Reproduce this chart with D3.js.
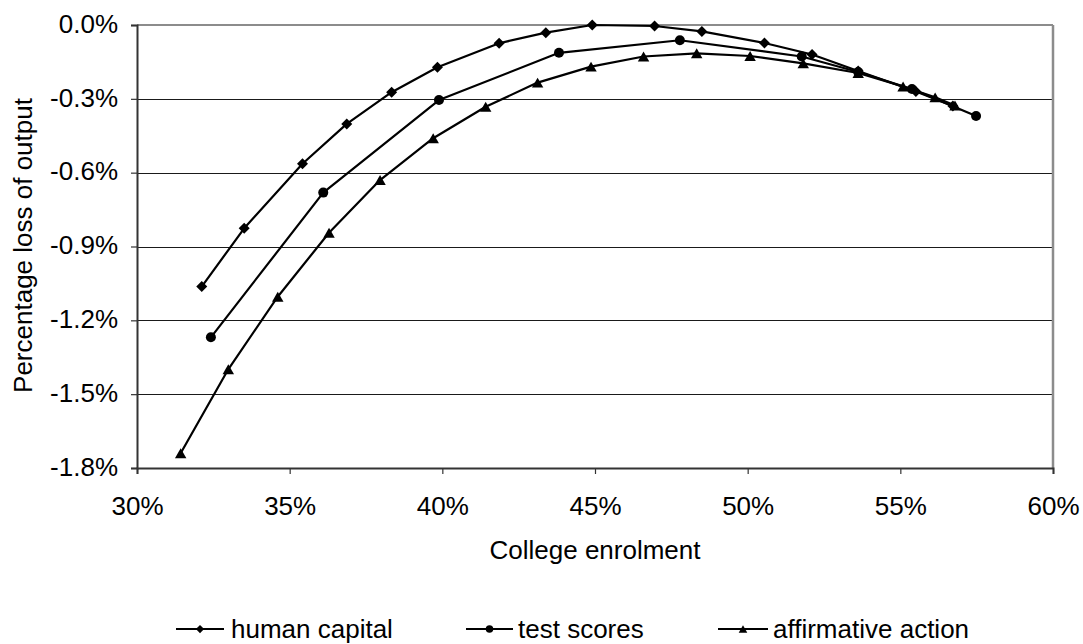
<!DOCTYPE html>
<html>
<head>
<meta charset="utf-8">
<script src="https://cdn.jsdelivr.net/npm/d3@7"></script>
<style>
  html, body { margin: 0; padding: 0; background: #fff; }
  svg { display: block; font-family: Arial, "Liberation Sans", sans-serif; }
</style>
</head>
<body>
<svg id="chart" width="1083" height="644"></svg>
<script>
// ---- data (percent) ----
const humanCapitalX = [32.12, 33.51, 35.42, 36.87, 38.34, 39.84, 41.86, 43.39, 44.91, 46.95, 48.50, 50.55, 52.11, 53.62, 55.51, 56.72];
const humanCapitalY = [-1.063, -0.826, -0.564, -0.402, -0.273, -0.172, -0.074, -0.031, 0.000, -0.004, -0.026, -0.073, -0.120, -0.187, -0.270, -0.329];

const testScoresX = [32.42, 36.10, 39.89, 43.82, 47.78, 51.77, 53.62, 55.38, 57.48];
const testScoresY = [-1.269, -0.681, -0.305, -0.113, -0.062, -0.128, -0.191, -0.260, -0.370];

const affirmativeX = [31.43, 32.99, 34.61, 36.29, 37.96, 39.70, 41.42, 43.12, 44.87, 46.59, 48.33, 50.08, 51.82, 53.62, 55.09, 56.14, 56.79];
const affirmativeY = [-1.740, -1.399, -1.104, -0.844, -0.630, -0.460, -0.332, -0.234, -0.169, -0.128, -0.115, -0.126, -0.156, -0.195, -0.250, -0.294, -0.327];

const seriesNames = ["human capital", "test scores", "affirmative action"];
const seriesSymbols = ["diamond", "circle", "triangle"];

const xTicks = [30, 35, 40, 45, 50, 55, 60];
const yTicks = [0.0, -0.3, -0.6, -0.9, -1.2, -1.5, -1.8];

const xTitle = "College enrolment";
const yTitle = "Percentage loss of output";

// ---- layout ----
const FS = 26;
const FONT = "Arial, 'Liberation Sans', sans-serif";
const plot = { left: 137, right: 1053, top: 25, bottom: 468 };

const svg = d3.select("#chart");
const x = d3.scaleLinear().domain([30, 60]).range([plot.left, plot.right]);
const y = d3.scaleLinear().domain([-1.8, 0]).range([plot.bottom, plot.top]);

// gridlines
svg.append("g").selectAll("line").data(yTicks.filter(d => d !== 0 && d !== -1.8)).join("line")
  .attr("x1", plot.left).attr("x2", plot.right)
  .attr("y1", d => Math.round(y(d)) + 0.5).attr("y2", d => Math.round(y(d)) + 0.5)
  .attr("stroke", "#1a1a1a").attr("stroke-width", 1);

// plot border top and right (gray)
svg.append("line").attr("x1", plot.left).attr("x2", plot.right).attr("y1", plot.top).attr("y2", plot.top)
  .attr("stroke", "#8c8c8c").attr("stroke-width", 2);
svg.append("line").attr("x1", plot.right).attr("x2", plot.right).attr("y1", plot.top).attr("y2", plot.bottom)
  .attr("stroke", "#8c8c8c").attr("stroke-width", 2.5);

// axes
const fmtY = d => (d < 0 ? "-" : "") + Math.abs(d).toFixed(1) + "%";
const yAxis = d3.axisLeft(y).tickValues(yTicks).tickSize(6).tickPadding(13).tickFormat(fmtY);
const gy = svg.append("g").attr("transform", `translate(${plot.left},0)`).call(yAxis);
gy.select(".domain").attr("stroke", "#333").attr("stroke-width", 2);
gy.selectAll(".tick line").attr("stroke", "#333").attr("stroke-width", 1.2);
gy.selectAll(".tick text").attr("font-size", FS).attr("fill", "#000").attr("font-family", FONT)
  .attr("dy", "0.28em");

const xAxis = d3.axisBottom(x).tickValues(xTicks).tickSize(6).tickPadding(23).tickFormat(d => d + "%");
const gx = svg.append("g").attr("transform", `translate(0,${plot.bottom})`).call(xAxis);
gx.select(".domain").attr("stroke", "#333").attr("stroke-width", 2);
gx.selectAll(".tick line").attr("stroke", "#333").attr("stroke-width", 1.2);
gx.selectAll(".tick text").attr("font-size", FS).attr("fill", "#000").attr("font-family", FONT);

// titles
svg.append("text").attr("x", (plot.left + plot.right) / 2).attr("y", 559)
  .attr("text-anchor", "middle").attr("font-size", FS).attr("font-family", FONT).text(xTitle);
svg.append("text").attr("transform", `translate(32,${(plot.top + plot.bottom) / 2 - 1}) rotate(-90)`)
  .attr("text-anchor", "middle").attr("font-size", FS).attr("font-family", FONT).text(yTitle);

// series
const series = [
  { name: seriesNames[0], sym: seriesSymbols[0], pts: humanCapitalX.map((v, i) => [v, humanCapitalY[i]]) },
  { name: seriesNames[1], sym: seriesSymbols[1], pts: testScoresX.map((v, i) => [v, testScoresY[i]]) },
  { name: seriesNames[2], sym: seriesSymbols[2], pts: affirmativeX.map((v, i) => [v, affirmativeY[i]]) }
];

function markerPath(sym, r) {
  if (sym === "diamond") return `M0,${-r}L${r},0L0,${r}L${-r},0Z`;
  if (sym === "circle") return d3.symbol().type(d3.symbolCircle).size(Math.PI * r * r)();
  // triangle centred on its bounding box
  const h = r * 1.9, w = r * 2.2;
  return `M0,${-h / 2}L${w / 2},${h / 2}L${-w / 2},${h / 2}Z`;
}
const markerR = { diamond: 5.5, circle: 5, triangle: 5.2 };
const line = d3.line().x(d => x(d[0])).y(d => y(d[1]));

series.forEach(s => {
  svg.append("path").attr("d", line(s.pts)).attr("fill", "none").attr("stroke", "#000")
    .attr("stroke-width", 2.2).attr("stroke-linejoin", "round");
  svg.append("g").selectAll("path").data(s.pts).join("path")
    .attr("transform", d => `translate(${x(d[0])},${y(d[1])})`)
    .attr("d", markerPath(s.sym, markerR[s.sym]))
    .attr("fill", "#000");
});

// legend
const legendItems = [
  { x0: 176, x1: 224, tx: 231 },
  { x0: 466, x1: 513, tx: 518 },
  { x0: 718, x1: 768, tx: 773 }
];
const ly = 629;
series.forEach((s, i) => {
  const li = legendItems[i];
  svg.append("line").attr("x1", li.x0).attr("x2", li.x1).attr("y1", ly).attr("y2", ly)
    .attr("stroke", "#000").attr("stroke-width", 2.2);
  svg.append("path").attr("transform", `translate(${(li.x0 + li.x1) / 2},${ly})`)
    .attr("d", markerPath(s.sym, markerR[s.sym] * 0.75)).attr("fill", "#000");
  svg.append("text").attr("x", li.tx).attr("y", ly).attr("dy", "0.35em")
    .attr("font-size", FS).attr("font-family", FONT).text(s.name);
});
</script>
</body>
</html>
